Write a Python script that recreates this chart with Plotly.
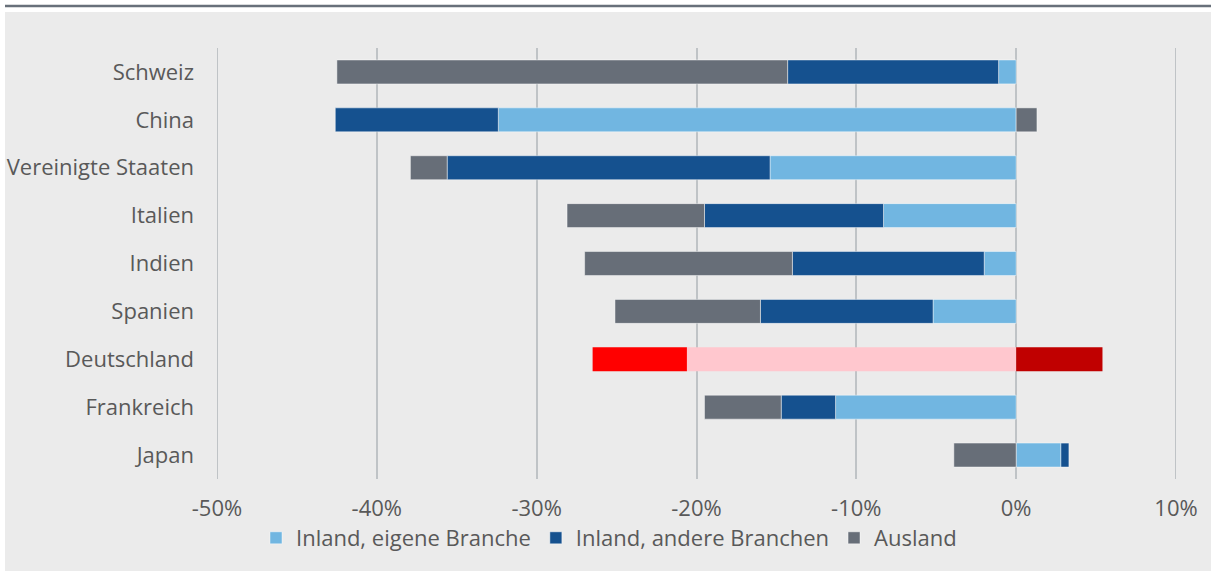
import plotly.graph_objects as go

# Categories, top to bottom
countries = ["Schweiz", "China", "Vereinigte Staaten", "Italien", "Indien",
             "Spanien", "Deutschland", "Frankreich", "Japan"]

# Contributions in percent
inland_eigene = [-1.1, -32.4, -15.4, -8.3, -2.0, -5.2, -20.6, -11.3, 2.8]
inland_andere = [-13.2, -10.2, -20.2, -11.2, -12.0, -10.8, -5.9, -3.4, 0.5]
ausland = [-28.2, 1.3, -2.3, -8.6, -13.0, -9.1, 5.4, -4.8, -3.9]

tick_values = [-50, -40, -30, -20, -10, 0, 10]
tick_labels = ["-50%", "-40%", "-30%", "-20%", "-10%", "0%", "10%"]

highlight = "Deutschland"

series = [
    ("Inland, eigene Branche", inland_eigene, "#71b6e1", "#ffc7ce"),
    ("Inland, andere Branchen", inland_andere, "#15518f", "#ff0000"),
    ("Ausland", ausland, "#676e78", "#c00000"),
]

FONT = "Open Sans, Liberation Sans, Arial, sans-serif"
FSIZE = 22
TEXT = "#595959"
BG = "#ebebeb"
GRID = "#bfc3c6"

fig = go.Figure()
for name, vals, color, hcolor in series:
    colors = [hcolor if c == highlight else color for c in countries]
    lw = [0 if c == highlight else 1 for c in countries]
    fig.add_trace(go.Bar(
        y=countries, x=vals, name=name, orientation="h",
        marker=dict(color=colors, line=dict(color="rgba(255,255,255,0.45)", width=lw)),
        hoverinfo="x+y",
    ))

W, H = 1211, 571
L, R, T, B = 217, 35, 48, 92
pw, ph = W - L - R, H - T - B


def px(x):
    return (x - L) / pw


def py(y):
    return (H - B - y) / ph


shapes = [
    # gridlines on the two ends of the value axis
    dict(type="line", xref="x", yref="paper", x0=tick_values[0], x1=tick_values[0], y0=0, y1=1,
         line=dict(color=GRID, width=2), layer="below"),
    dict(type="line", xref="x", yref="paper", x0=tick_values[-1], x1=tick_values[-1], y0=0, y1=1,
         line=dict(color=GRID, width=2), layer="below"),
    # white strips around the grey panel
    dict(type="rect", xref="paper", yref="paper", x0=px(0), x1=px(W), y0=py(12), y1=py(0),
         fillcolor="white", line=dict(width=0), layer="above"),
    dict(type="rect", xref="paper", yref="paper", x0=px(0), x1=px(5), y0=py(H), y1=py(0),
         fillcolor="white", line=dict(width=0), layer="above"),
    # dark rule along the top
    dict(type="line", xref="paper", yref="paper", x0=px(5), x1=px(W), y0=py(6), y1=py(6),
         line=dict(color="#68707a", width=2.5), layer="above"),
]

fig.update_layout(
    width=W, height=H,
    barmode="relative", bargap=0.5,
    paper_bgcolor=BG, plot_bgcolor=BG,
    margin=dict(l=L, r=R, t=T, b=B, pad=0, autoexpand=False),
    font=dict(family=FONT, size=FSIZE, color=TEXT),
    showlegend=True,
    legend=dict(orientation="h", x=px(609), xanchor="center", y=py(538), yanchor="middle",
                font=dict(family=FONT, size=FSIZE, color=TEXT), bgcolor="rgba(0,0,0,0)",
                traceorder="normal", itemwidth=30),
    shapes=shapes,
    xaxis=dict(range=[tick_values[0], tick_values[-1]], tickvals=tick_values, ticktext=tick_labels,
               showgrid=True, gridcolor=GRID, gridwidth=2,
               zeroline=True, zerolinecolor=GRID, zerolinewidth=2,
               showline=False, ticks="outside", ticklen=10, tickcolor=BG,
               tickfont=dict(family=FONT, size=FSIZE, color=TEXT), fixedrange=True,
               automargin=False),
    yaxis=dict(autorange="reversed", showgrid=False, zeroline=False, showline=False,
               ticks="", ticklabelstandoff=22, automargin=False,
               tickfont=dict(family=FONT, size=FSIZE, color=TEXT), fixedrange=True),
)

fig.write_html("out.html")
